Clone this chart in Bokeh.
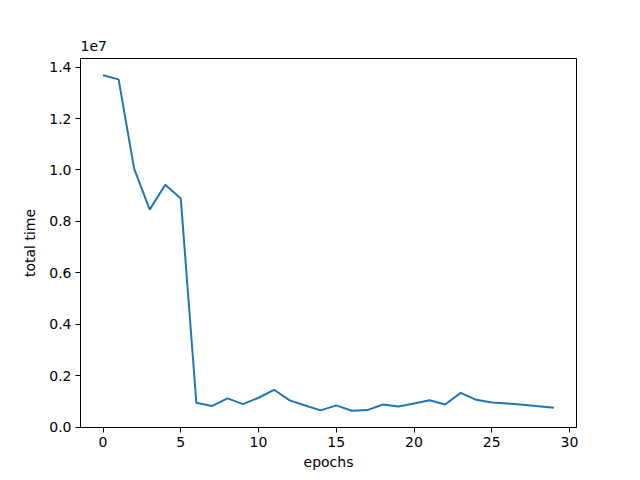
from bokeh.plotting import figure
from bokeh.embed import file_html
from bokeh.resources import INLINE
from bokeh.models import Range1d, FixedTicker, CustomJSTickFormatter, Title

epochs = list(range(30))
total_time = [13.68e6, 13.52e6, 10.05e6, 8.46e6, 9.43e6, 8.89e6, 0.957e6, 0.826e6,
              1.124e6, 0.904e6, 1.15e6, 1.46e6, 1.05e6, 0.85e6, 0.66e6, 0.853e6,
              0.646e6, 0.67e6, 0.89e6, 0.81e6, 0.93e6, 1.05e6, 0.89e6, 1.34e6,
              1.07e6, 0.97e6, 0.93e6, 0.88e6, 0.82e6, 0.76e6]
x_ticks = [0, 5, 10, 15, 20, 25, 30]
y_ticks = [0, 0.2e7, 0.4e7, 0.6e7, 0.8e7, 1.0e7, 1.2e7, 1.4e7]

xmin, xmax = min(epochs), max(epochs)
ymin, ymax = min(total_time), max(total_time)
xm = 0.05 * (xmax - xmin)
ym = 0.05 * (ymax - ymin)

p = figure(width=640, height=480, frame_width=496, frame_height=369,
           output_backend="svg", toolbar_location=None,
           x_range=Range1d(xmin - xm, xmax + xm),
           y_range=Range1d(ymin - ym, ymax + ym),
           min_border_left=80, min_border_right=64, min_border_top=58, min_border_bottom=53,
           title="1e7")

p.title.text_font = "DejaVu Sans"
p.title.text_font_size = "14px"
p.title.text_font_style = "normal"
p.title.text_color = "black"
p.title.align = "left"
p.title.offset = 0

# small empty spacer between the "1e7" multiplier and the frame
spacer = Title(text=" ", text_font_size="1px", standoff=0)
p.above.insert(0, spacer)

p.line(epochs, total_time, line_color="#1f77b4", line_width=2)

p.xgrid.visible = False
p.ygrid.visible = False
p.outline_line_color = "black"
p.outline_line_alpha = 1
p.outline_line_width = 1
p.background_fill_color = "white"
p.border_fill_color = "white"

p.xaxis.ticker = FixedTicker(ticks=x_ticks)
p.yaxis.ticker = FixedTicker(ticks=y_ticks)
p.yaxis.formatter = CustomJSTickFormatter(code="return (tick/1e7).toFixed(1);")

for ax in (p.xaxis[0], p.yaxis[0]):
    ax.major_tick_in = 0
    ax.major_tick_out = 5
    ax.minor_tick_line_color = None
    ax.axis_line_color = "black"
    ax.major_tick_line_color = "black"
    ax.major_label_text_font = "DejaVu Sans"
    ax.major_label_text_font_size = "14px"
    ax.major_label_text_color = "black"
    ax.axis_label_text_font = "DejaVu Sans"
    ax.axis_label_text_font_size = "14px"
    ax.axis_label_text_font_style = "normal"
    ax.axis_label_text_color = "black"
    ax.major_label_standoff = 4

p.xaxis.axis_label = "epochs"
p.yaxis.axis_label = "total time"
p.xaxis.axis_label_standoff = 4
p.yaxis.axis_label_standoff = 8

open("out.html", "w").write(file_html(p, INLINE))
